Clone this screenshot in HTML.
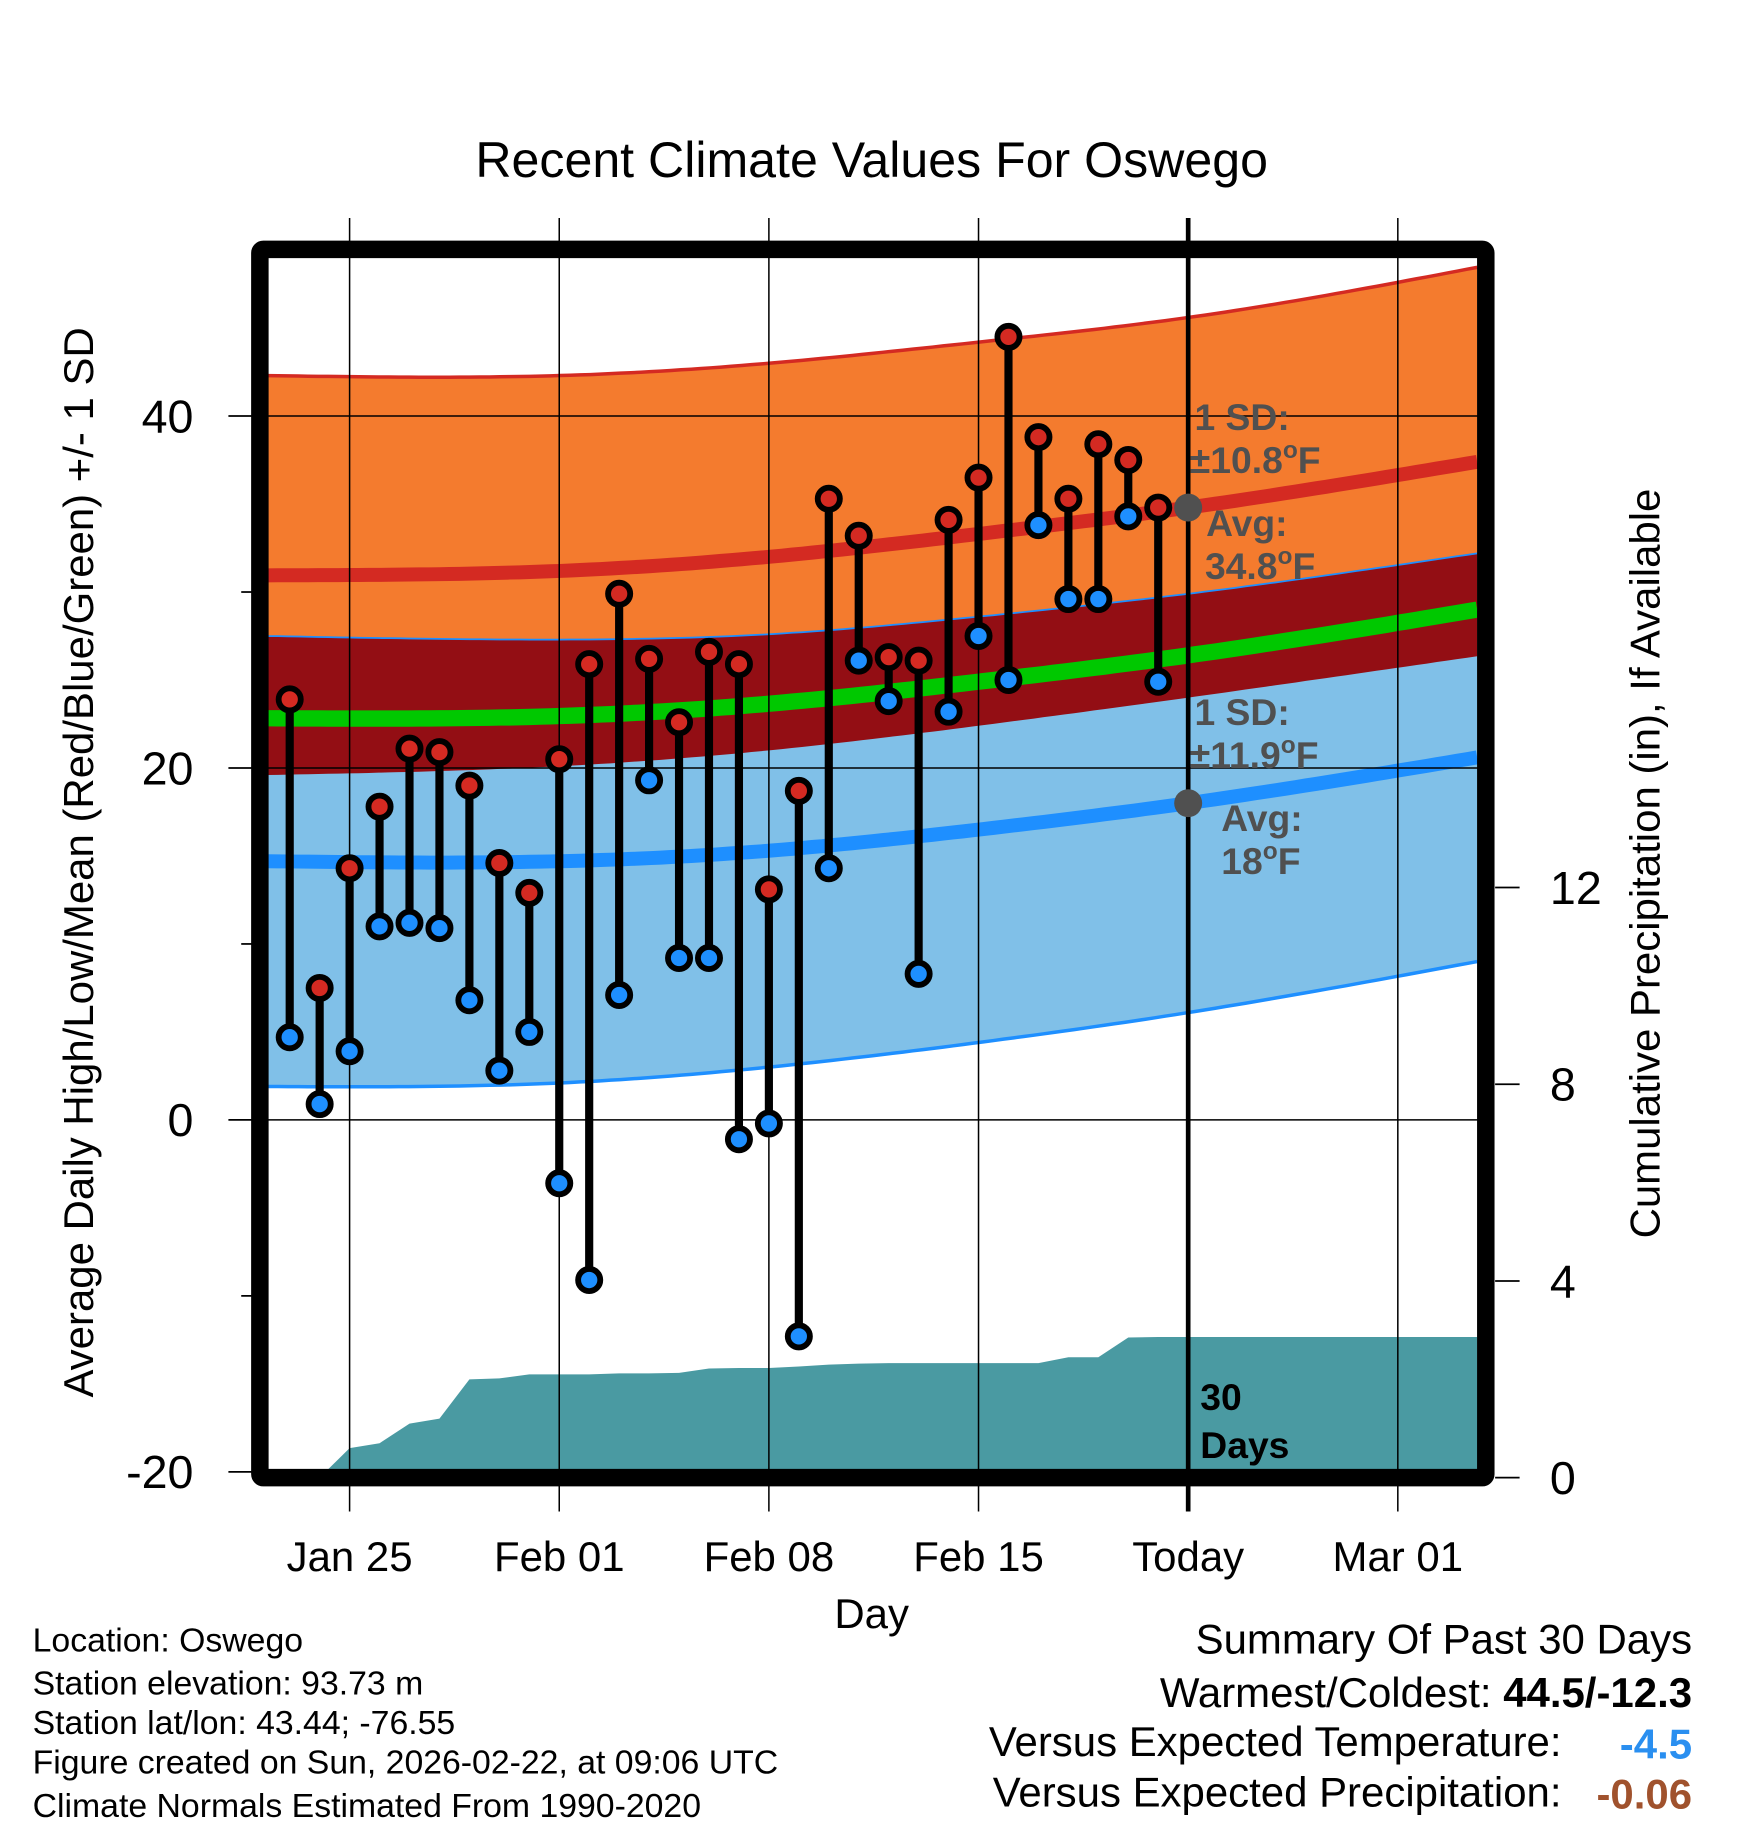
<!DOCTYPE html>
<html><head><meta charset="utf-8"><style>
html,body{margin:0;padding:0;background:#fff}
svg{display:block;font-family:"Liberation Sans",sans-serif}
</style></head><body>
<svg id="chart" width="1748" height="1828" viewBox="0 0 1500 1568.6" xmlns="http://www.w3.org/2000/svg">
<g id="layer"></g>
</svg>
<script>
// data
const obsDays = [-2,-1,0,1,2,3,4,5,6,7,8,9,10,11,12,13,14,15,16,17,18,19,20,21,22,23,24,25,26,27];
const highs = [23.9,7.5,14.3,17.8,21.1,20.9,19,14.6,12.9,20.5,25.9,29.9,26.2,22.6,26.6,25.9,13.1,18.7,35.3,33.2,26.3,26.1,34.1,36.5,44.5,38.8,35.3,38.4,37.5,34.8];
const lows = [4.7,0.9,3.9,11,11.2,10.9,6.8,2.8,5,-3.6,-9.1,7.1,19.3,9.2,9.2,-1.1,-0.2,-12.3,14.3,26.1,23.8,8.3,23.2,27.5,25,33.8,29.6,29.6,34.3,24.9];
const normDays = [-2.73,7,14,21,28,37.65];
const normHigh = [30.95,31.2,32.0,33.3,34.8,37.4];
const normLow = [14.7,14.7,15.3,16.5,18.0,20.6];
const sdHighArr = [11.35,11.1,11.0,10.9,10.8,11.05];
const sdLowArr = [12.8,12.6,12.3,12.1,11.9,11.6];
const precipDays = [-1,0,1,2,3,4,5,6,7,8,9,10,11,12,13,14,15,16,17,18,19,20,21,22,23,24,25,26,27,28,37.65];
const precipCum = [0,0.6,0.7,1.1,1.2,2.0,2.02,2.1,2.1,2.1,2.12,2.12,2.13,2.22,2.23,2.23,2.26,2.3,2.32,2.33,2.33,2.33,2.33,2.33,2.33,2.45,2.45,2.85,2.86,2.86,2.86];
const yTicks = [40,20,0,-20];
const yMinor = [30,10,-10];
const pTicks = [0,4,8,12];
const xTickDays = [0,7,14,21,28,35];
const xTickLabels = ["Jan 25","Feb 01","Feb 08","Feb 15","Today","Mar 01"];

const X0=230,X1=1268,Y0=221,Y1=1261;
const xs = d => 300 + 25.7*d;
const ys = v => 961 - 15.1*v;
const yp = p => 1268 - 42.2*p;
const NS="http://www.w3.org/2000/svg";
const L=document.getElementById('layer');
function mk(t,a,txt,parent){const e=document.createElementNS(NS,t);for(const k in a)e.setAttribute(k,a[k]);if(txt!==undefined)e.textContent=txt;(parent||L).appendChild(e);return e;}
// natural cubic spline
function spline(xv,yv){const n=xv.length,h=[],al=[0],l=[1],mu=[0],z=[0],c=new Array(n).fill(0),b=[],d=[];
 for(let i=0;i<n-1;i++)h.push(xv[i+1]-xv[i]);
 for(let i=1;i<n-1;i++)al.push(3/h[i]*(yv[i+1]-yv[i])-3/h[i-1]*(yv[i]-yv[i-1]));
 for(let i=1;i<n-1;i++){l[i]=2*(xv[i+1]-xv[i-1])-h[i-1]*mu[i-1];mu[i]=h[i]/l[i];z[i]=(al[i]-h[i-1]*z[i-1])/l[i];}
 for(let j=n-2;j>=0;j--){c[j]=(j<n-2||true)?(z[j]||0)-mu[j]*c[j+1]:0;b[j]=(yv[j+1]-yv[j])/h[j]-h[j]*(c[j+1]+2*c[j])/3;d[j]=(c[j+1]-c[j])/(3*h[j]);}
 c[0]=0;
 return x=>{let j=0;while(j<n-2&&x>xv[j+1])j++;const t=x-xv[j];return yv[j]+b[j]*t+c[j]*t*t+d[j]*t*t*t;};}
const H=spline(normDays,normHigh), Lo=spline(normDays,normLow), SH=spline(normDays,sdHighArr), SL=spline(normDays,sdLowArr);
const samp=[];for(let i=0;i<=120;i++)samp.push(normDays[0]+(normDays[5]-normDays[0])*i/120);
function curve(f){return samp.map(d=>xs(d).toFixed(1)+','+ys(f(d)).toFixed(1));}
function band(fTop,fBot){const a=curve(fTop),b=curve(fBot).reverse();return 'M'+a.join('L')+'L'+b.join('L')+'Z';}

let e;
e=mk('path',{d:band(d=>H(d)+SH(d),d=>H(d)-SH(d)),fill:'#f47b2e'});

e=mk('path',{d:'M'+curve(d=>H(d)+SH(d)).join('L'),fill:'none',stroke:'#d42a22','stroke-width':3});

e=mk('path',{d:band(d=>Lo(d)+SL(d),d=>Lo(d)-SL(d)),fill:'#80c0e8'});

e=mk('path',{d:band(d=>Lo(d)+SL(d),d=>H(d)-SH(d)),fill:'#930e14'});

e=mk('path',{d:'M'+curve(d=>Lo(d)+SL(d)).join('L'),fill:'none',stroke:'#1e8fff','stroke-width':1.5});

e=mk('path',{d:'M'+curve(d=>Lo(d)-SL(d)).join('L'),fill:'none',stroke:'#1e8fff','stroke-width':3});

e=mk('path',{d:'M'+curve(H).join('L'),fill:'none',stroke:'#d42a22','stroke-width':12});

e=mk('path',{d:'M'+curve(Lo).join('L'),fill:'none',stroke:'#1e8fff','stroke-width':12});

e=mk('path',{d:'M'+curve(d=>(H(d)+Lo(d))/2).join('L'),fill:'none',stroke:'#00c800','stroke-width':14});


// precip area
let pd='M'+xs(precipDays[0])+','+yp(0);
precipDays.forEach((d,i)=>{pd+='L'+Math.min(xs(d),X1)+','+yp(precipCum[i]);});
pd+='L'+X1+','+yp(0)+'Z';
e=mk('path',{d:pd,fill:'#4a9aa2'});


// grid
yTicks.forEach(v=>{if(v>-20){e=mk('line',{x1:X0,x2:X1,y1:ys(v),y2:ys(v),stroke:'#000','stroke-width':1.3});
}});
xTickDays.forEach((d,i)=>{
 e=mk('line',{x1:xs(d),x2:xs(d),y1:187,y2:1297,stroke:'#000','stroke-width':i==4?4:1.3});
 
 e=mk('text',{x:xs(d),y:1348,'font-size':36,'text-anchor':'middle'},xTickLabels[i]);
 
});

// stems & points
obsDays.forEach((d,i)=>{
 e=mk('line',{x1:xs(d),x2:xs(d),y1:ys(highs[i]),y2:ys(lows[i]),stroke:'#000','stroke-width':7});
 
});
obsDays.forEach((d,i)=>{
 e=mk('circle',{cx:xs(d),cy:ys(highs[i]),r:9.5,fill:'#d42a22',stroke:'#000','stroke-width':5});
 
 e=mk('circle',{cx:xs(d),cy:ys(lows[i]),r:9.5,fill:'#1e8fff',stroke:'#000','stroke-width':5});
 
});

// today markers
e=mk('circle',{cx:xs(28),cy:ys(H(28)),r:12,fill:'#505050'});

e=mk('circle',{cx:xs(28),cy:ys(Lo(28)),r:12,fill:'#505050'});


// frame
e=mk('rect',{x:223,y:214,width:1052,height:1054,fill:'none',stroke:'#000','stroke-width':15,rx:3});

yTicks.forEach(v=>{
 e=mk('line',{x1:196,x2:216,y1:ys(v),y2:ys(v),stroke:'#000','stroke-width':1.5});
 
 e=mk('text',{x:166,y:ys(v)+14,'font-size':40,'text-anchor':'end'},String(v));
 
});
yMinor.forEach(v=>{e=mk('line',{x1:207,x2:216,y1:ys(v),y2:ys(v),stroke:'#000','stroke-width':1.5});
 });
pTicks.forEach(p=>{
 e=mk('line',{x1:1283,x2:1304,y1:yp(p),y2:yp(p),stroke:'#000','stroke-width':1.5});
 
 e=mk('text',{x:1330,y:yp(p)+14,'font-size':40},String(p));
 
});
</script>
<script>
const S=document.getElementById('chart');
const NS2="http://www.w3.org/2000/svg";
function tx(x,y,size,txt,name,opt){const e=document.createElementNS(NS2,'text');e.setAttribute('x',x);e.setAttribute('y',y);e.setAttribute('font-size',size);
for(const k in (opt||{}))e.setAttribute(k,opt[k]);e.innerHTML=txt;S.appendChild(e);


return e;}
tx(748,152,43,'Recent Climate Values For Oswego','chart-title',{'text-anchor':'middle'});
tx(748,1397,36,'Day','x-axis-title',{'text-anchor':'middle'});
tx(0,0,36,'Average Daily High/Low/Mean (Red/Blue/Green) +/- 1 SD','y-axis-title',{'text-anchor':'middle',transform:'translate(80,740) rotate(-90)'});
tx(0,0,36,'Cumulative Precipitation (in), If Available','precip-axis-title',{'text-anchor':'middle',transform:'translate(1424,741) rotate(-90)'});
const g={fill:'#505050','font-weight':'bold'};
tx(1025,369,32,'1 SD:','high-sd-label',g);
tx(1021,406,32,'±10.8<tspan dy="-13" font-size="21">o</tspan><tspan dy="13">F</tspan>','high-sd-value',g);
tx(1035,460,32,'Avg:','high-avg-label',g);
tx(1034,497,32,'34.8<tspan dy="-13" font-size="21">o</tspan><tspan dy="13">F</tspan>','high-avg-value',g);
tx(1025,622,32,'1 SD:','low-sd-label',g);
tx(1021,659,32,'±11.9<tspan dy="-13" font-size="21">o</tspan><tspan dy="13">F</tspan>','low-sd-value',g);
tx(1048,713,32,'Avg:','low-avg-label',g);
tx(1048,750,32,'18<tspan dy="-13" font-size="21">o</tspan><tspan dy="13">F</tspan>','low-avg-value',g);
tx(1030,1210,32,'30','days-count',{'font-weight':'bold'});
tx(1030,1251,32,'Days','days-label',{'font-weight':'bold'});
const info=['Location: Oswego','Station elevation: 93.73 m','Station lat/lon: 43.44; -76.55','Figure created on Sun, 2026-02-22, at 09:06 UTC','Climate Normals Estimated From 1990-2020'];
const iy=[1417,1454,1488,1522,1559];
info.forEach((t,i)=>tx(28,iy[i],29,t,'station-info-line'));
tx(1452,1419,36,'Summary Of Past 30 Days','summary-title',{'text-anchor':'end'});
tx(1452,1465,36,'Warmest/Coldest: <tspan font-weight="bold">44.5/-12.3</tspan>','warmest-coldest',{'text-anchor':'end'});
tx(1340,1507,36,'Versus Expected Temperature:','temp-anomaly-label',{'text-anchor':'end'});
tx(1452,1509,36,'-4.5','temp-anomaly-value',{'text-anchor':'end',fill:'#2a8ff0','font-weight':'bold'});
tx(1340,1550,36,'Versus Expected Precipitation:','precip-anomaly-label',{'text-anchor':'end'});
tx(1452,1552,36,'-0.06','precip-anomaly-value',{'text-anchor':'end',fill:'#a0522d','font-weight':'bold'});
</script>
</body></html>
